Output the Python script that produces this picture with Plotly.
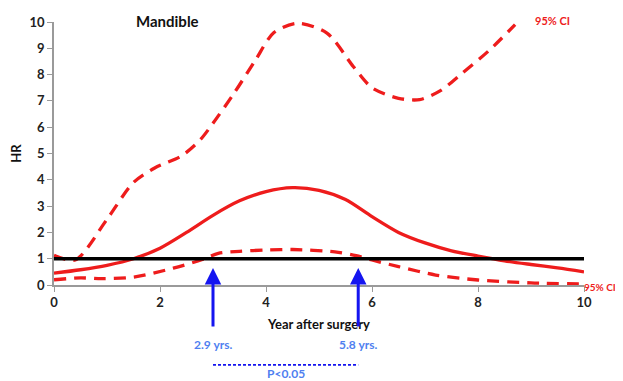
import plotly.graph_objects as go

# HR estimate (solid)
hr_x = [0, 0.5, 1, 1.5, 2, 2.5, 3, 3.5, 4, 4.5, 5, 5.5, 6, 6.5, 7, 7.5, 8, 8.5, 9, 9.5, 10]
hr_y = [0.45, 0.58, 0.75, 1.0, 1.4, 2.0, 2.65, 3.2, 3.55, 3.7, 3.6, 3.25, 2.6, 2.0, 1.6, 1.3, 1.1, 0.92, 0.78, 0.65, 0.5]

# upper 95% CI
up_x = [0, 0.4, 1.0, 1.5, 1.9, 2.4, 2.75, 3.0, 3.4, 3.8, 4.15, 4.6, 5.15, 5.65, 6.0, 6.5, 6.9, 7.3, 7.7, 8.2, 8.7]
up_y = [1.13, 0.95, 2.5, 3.9, 4.45, 4.9, 5.5, 6.15, 7.3, 8.55, 9.6, 9.95, 9.58, 8.3, 7.5, 7.1, 7.05, 7.4, 8.05, 8.9, 9.9]

# lower 95% CI
lo_x = [0, 0.5, 0.9, 1.5, 2.25, 2.8, 3.1, 3.5, 4, 4.5, 5.3, 5.7, 6, 6.5, 7.2, 8, 9, 10]
lo_y = [0.2, 0.27, 0.24, 0.3, 0.64, 0.97, 1.2, 1.28, 1.33, 1.35, 1.26, 1.12, 0.95, 0.7, 0.38, 0.19, 0.08, 0.04]

ref_x = [0, 10]
ref_y = [1, 1]

x_ticks = [0, 2, 4, 6, 8, 10]
y_ticks = list(range(0, 11))

cut_labels = ["2.9 yrs.", "5.8 yrs."]
arrow_x = [3.0, 5.74]

FONT = "Lato"
RED = "#ee1c1c"
BLUE = "#1515f0"
LBLUE = "#4f7ff0"

fig = go.Figure()
fig.add_trace(go.Scatter(x=up_x, y=up_y, mode="lines",
                         line=dict(color=RED, width=3.3, dash="12px,8px", shape="spline", smoothing=0.8),
                         cliponaxis=False, showlegend=False))
fig.add_trace(go.Scatter(x=lo_x, y=lo_y, mode="lines",
                         line=dict(color=RED, width=3.3, dash="12px,8px", shape="spline", smoothing=0.8),
                         cliponaxis=False, showlegend=False))
fig.add_trace(go.Scatter(x=hr_x, y=hr_y, mode="lines",
                         line=dict(color=RED, width=3.3, shape="spline", smoothing=0.8),
                         cliponaxis=False, showlegend=False))
fig.add_trace(go.Scatter(x=ref_x, y=ref_y, mode="lines",
                         line=dict(color="black", width=3.5),
                         cliponaxis=False, showlegend=False))

# paper y = data y / 10 (range 0..10 over the full domain)
annotations = [
    dict(x=2.15, y=1.005, xref="x", yref="paper", yanchor="middle", text="<b>Mandible</b>", showarrow=False,
         font=dict(family=FONT, size=15, color="#111")),
    dict(x=9.4, y=1.005, xref="x", yref="paper", yanchor="middle", text="<b>95% CI</b>", showarrow=False,
         font=dict(family=FONT, size=11, color=RED)),
    dict(x=0.996, y=-0.008, xref="paper", yref="paper", yanchor="middle", xanchor="left",
         text="<b>95% CI</b>", showarrow=False, font=dict(family=FONT, size=10, color=RED)),
]
for ax_, lab in zip(arrow_x, cut_labels):
    annotations.append(dict(x=ax_, y=0.65, xref="x", yref="y",
                            ax=0, ay=60, axref="pixel", ayref="pixel",
                            text="", showarrow=True, arrowhead=2, arrowsize=1.1, arrowwidth=3,
                            arrowcolor=BLUE))
    annotations.append(dict(x=ax_, y=-0.228, xref="x", yref="paper", yanchor="middle",
                            text="<b>" + lab + "</b>",
                            showarrow=False, font=dict(family=FONT, size=12, color=LBLUE)))
annotations.append(dict(x=(arrow_x[0] + arrow_x[1]) / 2, y=-0.335, xref="x", yref="paper", yanchor="middle",
                        text="<b>P<0.05</b>", showarrow=False,
                        font=dict(family=FONT, size=12, color=LBLUE)))

shapes = [dict(type="line", xref="x", yref="paper", x0=arrow_x[0], x1=arrow_x[1], y0=-0.304, y1=-0.304,
               line=dict(color=BLUE, width=1.8, dash="3px,2px"))]

# the page body has an 8px margin, so the figure is shifted by 8px
fig.update_layout(
    width=615, height=373,
    margin=dict(l=46, r=39, t=14, b=96),
    plot_bgcolor="white", paper_bgcolor="white",
    annotations=annotations, shapes=shapes,
    font=dict(family=FONT, color="#222"),
)
fig.update_xaxes(range=[0, 10], tickvals=x_ticks, ticktext=[f"<b>{v}</b>" for v in x_ticks],
                 showgrid=False, zeroline=False, showline=True, linecolor="#9a9a9a", linewidth=1.5,
                 ticks="outside", ticklen=5, tickcolor="#9a9a9a", automargin=False,
                 tickfont=dict(family=FONT, size=13, color="#222"),
                 title=dict(text="<b>Year after surgery</b>", font=dict(family=FONT, size=13, color="#111"), standoff=11))
fig.update_yaxes(range=[0, 10], tickvals=y_ticks, ticktext=[f"<b>{v}</b>" for v in y_ticks],
                 showgrid=False, zeroline=False, showline=True, linecolor="#9a9a9a", linewidth=1.5,
                 ticks="outside", ticklen=5, tickcolor="#9a9a9a", automargin=False,
                 tickfont=dict(family=FONT, size=13, color="#222"),
                 title=dict(text="<b>HR</b>", font=dict(family=FONT, size=13, color="#111"), standoff=8))

fig.write_html("out.html")
